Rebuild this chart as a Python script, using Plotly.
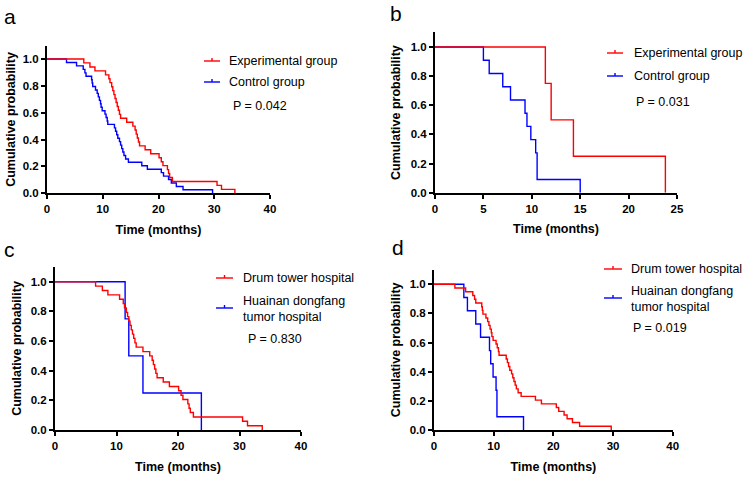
import plotly.graph_objects as go

W, H = 749, 477

# ---------------- data ----------------
# Panel a / c red : Experimental group (Drum tower hospital)
exp_t = [0, 6.6, 7.7, 8.6, 10.5, 11.1, 11.3, 11.6, 11.8, 12.0, 12.2, 12.4, 12.6, 12.8,
         13.0, 13.2, 14.3, 15.4, 15.8, 16.0, 16.2, 16.4, 16.6, 17.6, 18.6, 20.1, 20.5,
         20.8, 21.6, 21.8, 22.0, 22.5, 30.5, 31.3, 33.7]
exp_s = [1.0, 0.971, 0.941, 0.912, 0.882, 0.853, 0.824, 0.794, 0.765, 0.735, 0.706, 0.676,
         0.647, 0.618, 0.588, 0.559, 0.529, 0.500, 0.471, 0.441, 0.412, 0.382, 0.353,
         0.324, 0.294, 0.265, 0.235, 0.206, 0.176, 0.147, 0.118, 0.088, 0.059, 0.029, 0.0]

# Panel a blue / d red : Control group (Drum tower hospital)
ctl_t = [0, 3.5, 5.3, 6.5, 6.8, 7.0, 8.0, 8.1, 8.2, 8.7, 9.0, 9.2, 9.4, 9.6, 9.7, 9.9,
         10.4, 10.6, 10.8, 10.9, 12.1, 12.3, 12.5, 12.7, 13.0, 13.2, 13.4, 13.6, 13.8,
         14.1, 14.6, 17.0, 18.0, 20.5, 20.9, 21.8, 22.3, 23.2, 24.4, 29.7]
ctl_s = [1.0, 0.974, 0.949, 0.923, 0.897, 0.872, 0.846, 0.821, 0.795, 0.769, 0.744, 0.718,
         0.692, 0.667, 0.641, 0.615, 0.590, 0.564, 0.538, 0.513, 0.487, 0.462, 0.436,
         0.410, 0.385, 0.359, 0.333, 0.308, 0.282, 0.256, 0.231, 0.205, 0.179, 0.154,
         0.128, 0.103, 0.077, 0.051, 0.026, 0.0]

# Panel b red / c blue : Experimental group (Huainan dongfang tumor hospital)
hn_exp_t = [0, 11.4, 12.0, 14.3, 23.8]
hn_exp_s = [1.0, 0.75, 0.50, 0.25, 0.0]

# Panel b blue / d blue : Control group (Huainan dongfang tumor hospital)
hn_ctl_t = [0, 5.0, 5.6, 7.0, 7.8, 9.3, 9.5, 9.9, 10.4, 10.55, 15.0]
hn_ctl_s = [1.0, 0.909, 0.818, 0.727, 0.636, 0.545, 0.455, 0.364, 0.273, 0.091, 0.0]

panel_letters = ["a", "b", "c", "d"]
legend_a = ["Experimental group", "Control group"]
legend_c = ["Drum tower hospital", "Huainan dongfang<br>tumor hospital"]
p_values = ["P = 0.042", "P = 0.031", "P = 0.830", "P = 0.019"]
x_max = [40, 25, 40, 40]
x_dtick = [10, 5, 10, 10]
y_ticks = [0.0, 0.2, 0.4, 0.6, 0.8, 1.0]

RED = "rgb(255,0,0)"
BLUE = "rgb(0,0,255)"
FONT = "Liberation Sans, Arial, sans-serif"

# panel series: (blue first so red is drawn on top)
panels = [
    [(ctl_t, ctl_s, BLUE, legend_a[1]), (exp_t, exp_s, RED, legend_a[0])],
    [(hn_ctl_t, hn_ctl_s, BLUE, legend_a[1]), (hn_exp_t, hn_exp_s, RED, legend_a[0])],
    [(hn_exp_t, hn_exp_s, BLUE, legend_c[1]), (exp_t, exp_s, RED, legend_c[0])],
    [(hn_ctl_t, hn_ctl_s, BLUE, legend_c[1]), (ctl_t, ctl_s, RED, legend_c[0])],
]

# layout geometry in pixels: (x0, x1, y_bottom(0), y_top(1.1))
geom = [
    (47, 270, 193.3, 45.6),
    (435, 677, 192.7, 32.4),
    (55, 301, 430.0, 267.0),
    (434, 672.7, 430.0, 269.7),
]
y_title_standoff = [4, 7, 6, 6]

def px(x):
    return x / W

def py(y):
    return 1 - y / H

fig = go.Figure()
layout = dict(
    width=W, height=H, autosize=False,
    margin=dict(l=0, r=0, t=0, b=0),
    paper_bgcolor="white", plot_bgcolor="white",
    showlegend=False,
    font=dict(family=FONT, color="black"),
)

for i, series in enumerate(panels):
    xa = "x" if i == 0 else f"x{i+1}"
    ya = "y" if i == 0 else f"y{i+1}"
    for t, s, col, name in series:
        fig.add_trace(go.Scatter(
            x=t, y=s, mode="lines", line=dict(color=col, width=1.4, shape="hv"),
            name=name.replace("<br>", " "), xaxis=xa, yaxis=ya, showlegend=False,
        ))
    x0, x1, yb, yt = geom[i]
    xkey = "xaxis" if i == 0 else f"xaxis{i+1}"
    ykey = "yaxis" if i == 0 else f"yaxis{i+1}"
    layout[xkey] = dict(
        domain=[px(x0), px(x1)], anchor=ya, range=[0, x_max[i]],
        tickmode="linear", tick0=0, dtick=x_dtick[i], automargin=False,
        showline=True, linecolor="black", linewidth=2,
        ticks="outside", ticklen=4, tickwidth=2, tickcolor="black",
        showgrid=False, zeroline=False,
        tickfont=dict(family=FONT, size=11.5, color="black", weight="bold"),
        title=dict(text="Time (months)", standoff=11,
                   font=dict(family=FONT, size=12.5, color="black", weight="bold")),
        fixedrange=True,
    )
    layout[ykey] = dict(
        domain=[py(yb), py(yt)], anchor=xa, range=[0, 1.1], automargin=False,
        tickmode="array", tickvals=y_ticks, ticktext=[f"{v:.1f}" for v in y_ticks],
        showline=True, linecolor="black", linewidth=2,
        ticks="outside", ticklen=4, tickwidth=2, tickcolor="black",
        showgrid=False, zeroline=False,
        tickfont=dict(family=FONT, size=11.5, color="black", weight="bold"),
        title=dict(text="Cumulative probability", standoff=y_title_standoff[i],
                   font=dict(family=FONT, size=12.5, color="black", weight="bold")),
        fixedrange=True,
    )

# legends, p-values, panel letters drawn as layout items
shapes = []
annotations = []
leg = [
    dict(lx0=204, lx1=220, tx=227, y1=61, y2l=82, y2t=82, p=(231, 106)),
    dict(lx0=607, lx1=623, tx=632, y1=53, y2l=76, y2t=76, p=(634, 102)),
    dict(lx0=216, lx1=233, tx=241, y1=278, y2l=308, y2t=309, p=(246, 339)),
    dict(lx0=604, lx1=622, tx=629, y1=269, y2l=298, y2t=299, p=(631, 328)),
]
letters_pos = [(2, 16), (388, 14), (2, 249), (390, 248)]
for i in range(4):
    g = leg[i]
    labels = legend_a if i < 2 else legend_c
    for (ly, ty, col, lab) in [(g["y1"], g["y1"], RED, labels[0]), (g["y2l"], g["y2t"], BLUE, labels[1])]:
        shapes.append(dict(type="line", xref="paper", yref="paper",
                           x0=px(g["lx0"]), x1=px(g["lx1"]), y0=py(ly), y1=py(ly),
                           line=dict(color=col, width=1.4)))
        cx = (g["lx0"] + g["lx1"]) / 2
        shapes.append(dict(type="line", xref="paper", yref="paper",
                           x0=px(cx), x1=px(cx), y0=py(ly), y1=py(ly - 3),
                           line=dict(color=col, width=1.4)))
        annotations.append(dict(text=lab, xref="paper", yref="paper",
                                x=px(g["tx"]), y=py(ty), xanchor="left", yanchor="middle",
                                align="left", showarrow=False,
                                font=dict(family=FONT, size=12.5, color="black")))
    annotations.append(dict(text=p_values[i], xref="paper", yref="paper",
                            x=px(g["p"][0]), y=py(g["p"][1]), xanchor="left", yanchor="middle",
                            showarrow=False, font=dict(family=FONT, size=12.5, color="black")))
    lx, ly = letters_pos[i]
    annotations.append(dict(text=panel_letters[i], xref="paper", yref="paper",
                            x=px(lx), y=py(ly), xanchor="left", yanchor="middle",
                            showarrow=False, font=dict(family=FONT, size=21, color="black")))

layout["shapes"] = shapes
layout["annotations"] = annotations
fig.update_layout(**layout)
fig.write_html(
    "out.html",
    config={"displayModeBar": False},
    post_script="document.body.style.margin='0';document.body.style.padding='0';",
)
